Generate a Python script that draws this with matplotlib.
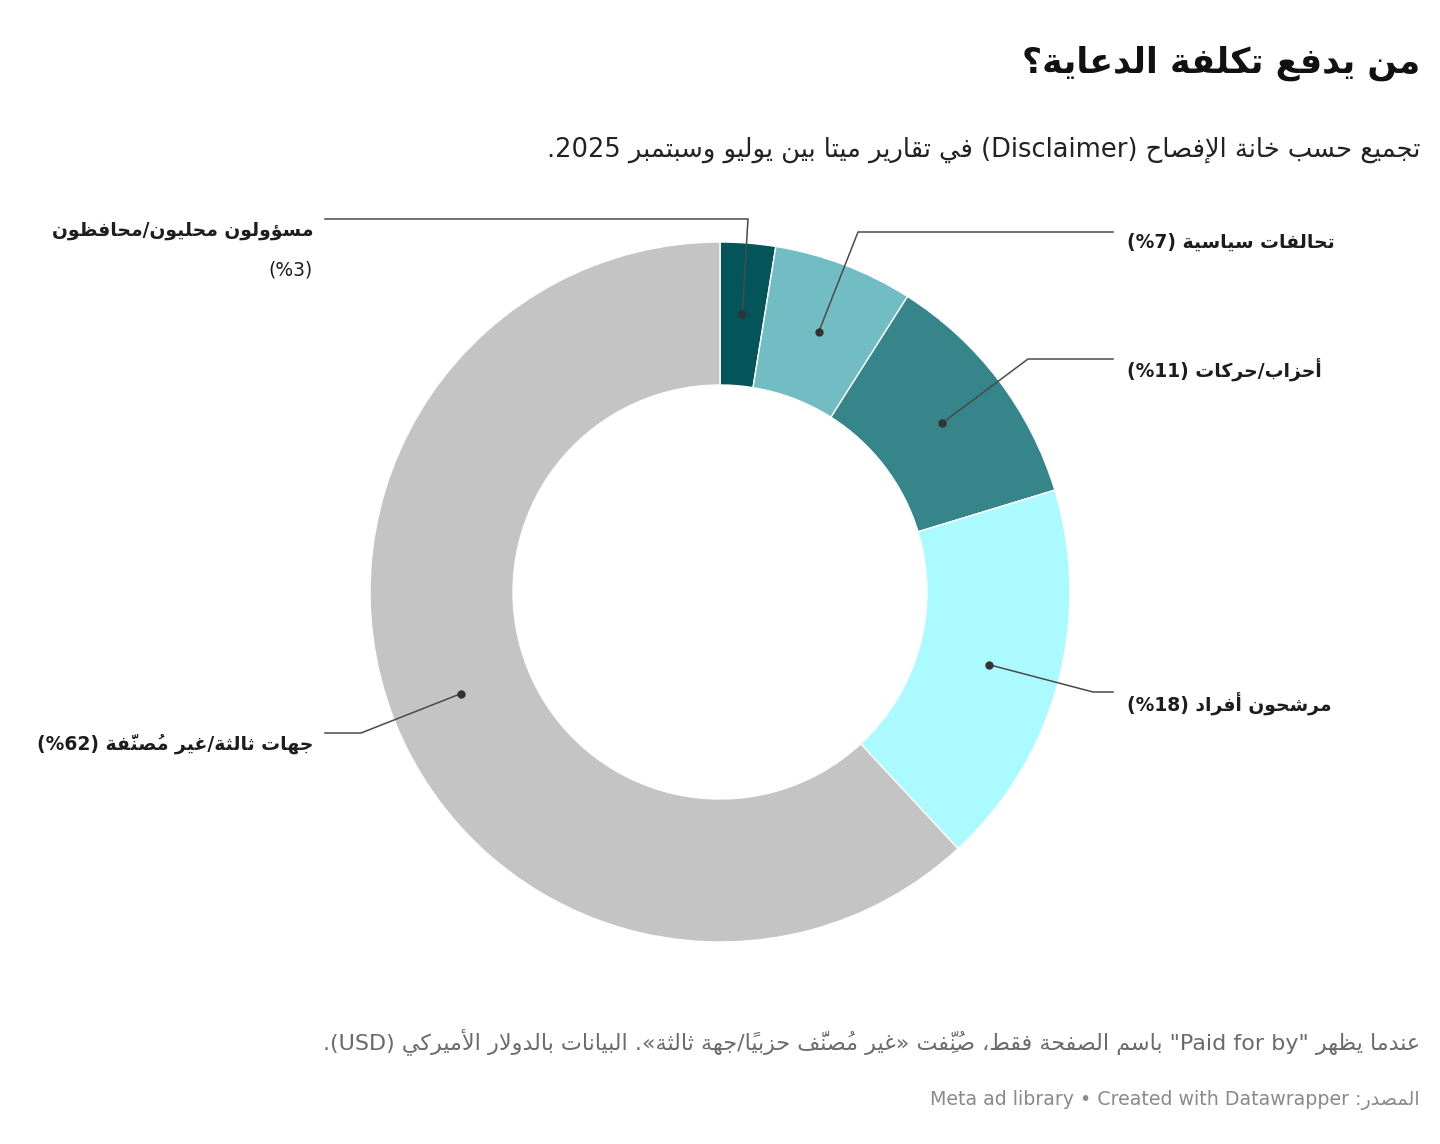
import numpy as np
import matplotlib
matplotlib.use('Agg')
import matplotlib.pyplot as plt

# ---- data ----
categories = ['مسؤولون محليون/محافظون', 'تحالفات سياسية', 'أحزاب/حركات',
              'مرشحون أفراد', 'جهات ثالثة/غير مُصنَّفة']
shares = [2.55, 6.45, 11.3, 17.8, 61.9]          # share of spending, %
share_labels = ['3', '7', '11', '18', '62']
colors = ['#03555a', '#72bdc4', '#35858a', '#aafaff', '#c4c4c4']

title = 'من يدفع تكلفة الدعاية؟'
subtitle = 'تجميع حسب خانة الإفصاح (Disclaimer) في تقارير ميتا بين يوليو وسبتمبر 2025.'
note = 'عندما يظهر "Paid for by" باسم الصفحة فقط، صُنِّفت «غير مُصنَّف حزبيًا/جهة ثالثة». البيانات بالدولار الأميركي (USD).'
source = 'المصدر: Meta ad library • Created with Datawrapper'

# ---- minimal arabic shaping + bidi (matplotlib has no text shaping) ----
DUAL = {'ئ': 0xFE89, 'ب': 0xFE8F, 'ت': 0xFE95, 'ث': 0xFE99, 'ج': 0xFE9D, 'ح': 0xFEA1,
        'خ': 0xFEA5, 'س': 0xFEB1, 'ش': 0xFEB5, 'ص': 0xFEB9, 'ض': 0xFEBD, 'ط': 0xFEC1,
        'ظ': 0xFEC5, 'ع': 0xFEC9, 'غ': 0xFECD, 'ف': 0xFED1, 'ق': 0xFED5, 'ك': 0xFED9,
        'ل': 0xFEDD, 'م': 0xFEE1, 'ن': 0xFEE5, 'ه': 0xFEE9, 'ي': 0xFEF1}
RIGHT = {'آ': 0xFE81, 'أ': 0xFE83, 'ؤ': 0xFE85, 'إ': 0xFE87, 'ا': 0xFE8D, 'ة': 0xFE93,
         'د': 0xFEA9, 'ذ': 0xFEAB, 'ر': 0xFEAD, 'ز': 0xFEAF, 'و': 0xFEED, 'ى': 0xFEEF}
LAMALEF = {'آ': 0xFEF5, 'أ': 0xFEF7, 'إ': 0xFEF9, 'ا': 0xFEFB}
MARKS = set(chr(c) for c in range(0x064B, 0x0653))
MIRROR = {'(': ')', ')': '(', '«': '»', '»': '«', '[': ']', ']': '['}


def ar(s):
    units = []
    for ch in s:
        if ch in MARKS and units:
            units[-1][1].append(ch)
        else:
            units.append([ch, []])
    merged = []
    j = 0
    while j < len(units):
        b, m = units[j]
        if b == 'ل' and j + 1 < len(units) and units[j + 1][0] in LAMALEF:
            merged.append(['LA' + units[j + 1][0], m + units[j + 1][1]])
            j += 2
        else:
            merged.append([b, m])
            j += 1

    def jl(b):
        return b in DUAL

    def jr(b):
        return b in DUAL or b in RIGHT or b.startswith('LA')

    shaped = []
    for k, (b, m) in enumerate(merged):
        prev = merged[k - 1][0] if k > 0 else None
        nxt = merged[k + 1][0] if k + 1 < len(merged) else None
        jp = prev is not None and jl(prev) and jr(b)
        jn = nxt is not None and jl(b) and jr(nxt)
        if b.startswith('LA'):
            g, t = chr(LAMALEF[b[2]] + (1 if jp else 0)), 'R'
        elif b in DUAL:
            g, t = chr(DUAL[b] + (3 if jp and jn else 2 if jn else 1 if jp else 0)), 'R'
        elif b in RIGHT:
            g, t = chr(RIGHT[b] + (1 if jp else 0)), 'R'
        elif 0x0600 <= ord(b) <= 0x06FF:
            g, t = b, 'R'
        elif b.isdigit():
            g, t = b, 'EN'
        elif b.isalpha():
            g, t = b, 'L'
        elif b == '%':
            g, t = b, 'ET'
        else:
            g, t = b, 'N'
        # marks go before the base in visual order so they sit on it
        shaped.append([''.join(m) + g, t])

    n = len(shaped)
    for k in range(n):
        if shaped[k][1] == 'ET':
            if (k > 0 and shaped[k - 1][1] == 'EN') or (k + 1 < n and shaped[k + 1][1] == 'EN'):
                shaped[k][1] = 'EN'
    for k in range(n):
        if shaped[k][1] == 'ET':
            shaped[k][1] = 'N'
    strong = [('R' if t == 'EN' else t) for _, t in shaped]
    levels = []
    for k, (_, t) in enumerate(shaped):
        if t == 'R':
            levels.append(1)
        elif t in ('L', 'EN'):
            levels.append(2)
        else:
            p = next((strong[i] for i in range(k - 1, -1, -1) if strong[i] != 'N'), 'R')
            q = next((strong[i] for i in range(k + 1, n) if strong[i] != 'N'), 'R')
            levels.append(2 if p == 'L' and q == 'L' else 1)
    glyphs = [g for g, _ in shaped]
    for k in range(n):
        if levels[k] == 1 and glyphs[k] in MIRROR:
            glyphs[k] = MIRROR[glyphs[k]]
    # reverse level-2 runs, then the whole line
    out = []
    k = 0
    while k < n:
        if levels[k] == 2:
            e = k
            while e < n and levels[e] == 2:
                e += 1
            out.extend(glyphs[k:e][::-1])
            k = e
        else:
            out.append(glyphs[k])
            k += 1
    return ''.join(out[::-1])


plt.rcParams['font.family'] = ['DejaVu Sans']

W, H = 1440, 1144
fig = plt.figure(figsize=(W / 100, H / 100), dpi=100)
ax = fig.add_axes([0, 0, 1, 1])
ax.set_xlim(0, W)
ax.set_ylim(0, H)
ax.axis('off')

cx, cy = 720, H - 592
R, width = 350, 143
wedges, _ = ax.pie(shares, colors=colors, startangle=90, counterclock=False,
                   center=(cx, cy), radius=R,
                   wedgeprops=dict(width=width, edgecolor='white', linewidth=1))
ax.set_xlim(0, W)
ax.set_ylim(0, H)
ax.set_aspect('equal')

# label layout: (elbow x, elbow y, line end x, text x, text y, ha) in px from top-left
layout = [
    (748, 219, 325, 313, 231, 'right'),
    (858, 232, 1113, 1127, 242, 'left'),
    (1028, 359, 1113, 1127, 369, 'left'),
    (1093, 692, 1113, 1127, 703, 'left'),
    (361, 733, 325, 313, 744, 'right'),
]

cum = np.cumsum([0] + shares[:-1])
for i, (name, v, pct) in enumerate(zip(categories, shares, share_labels)):
    ang = np.deg2rad(90 - 360 * (cum[i] + v / 2) / 100)
    rm = R - width / 2
    dx, dy = cx + rm * np.cos(ang), cy + rm * np.sin(ang)
    ex, ey, lx, tx, ty, ha = layout[i]
    ax.plot([dx, ex, lx], [dy, H - ey, H - ey], color='#4a4a4a', lw=1.1,
            solid_joinstyle='miter', zorder=5)
    ax.plot(dx, dy, 'o', color='#333333', ms=5, zorder=6)
    if i == 0:
        ax.text(tx, H - ty, ar(name), ha=ha, va='center', fontsize=13.5,
                fontweight='bold', color='#1d1d1d')
        ax.text(tx, H - ty - 39, ar('(%' + pct + ')'), ha=ha, va='center',
                fontsize=13.5, color='#1d1d1d')
    else:
        ax.text(tx, H - ty, ar(name + ' (%' + pct + ')'), ha=ha, va='center',
                fontsize=13.5, fontweight='bold', color='#1d1d1d')

fig.text(1420 / W, 1 - 63 / H, ar(title), ha='right', va='center', fontsize=25,
         fontweight='bold', color='#111111')
fig.text(1420 / W, 1 - 150 / H, ar(subtitle), ha='right', va='center', fontsize=18.5,
         color='#222222')
fig.text(1420 / W, 1 - 1042 / H, ar(note), ha='right', va='center', fontsize=16,
         color='#6b6b6b')
fig.text(1420 / W, 1 - 1100 / H, ar(source), ha='right', va='center', fontsize=13.7,
         color='#8a8a8a')

fig.savefig('out.png', dpi=100, facecolor='white')
